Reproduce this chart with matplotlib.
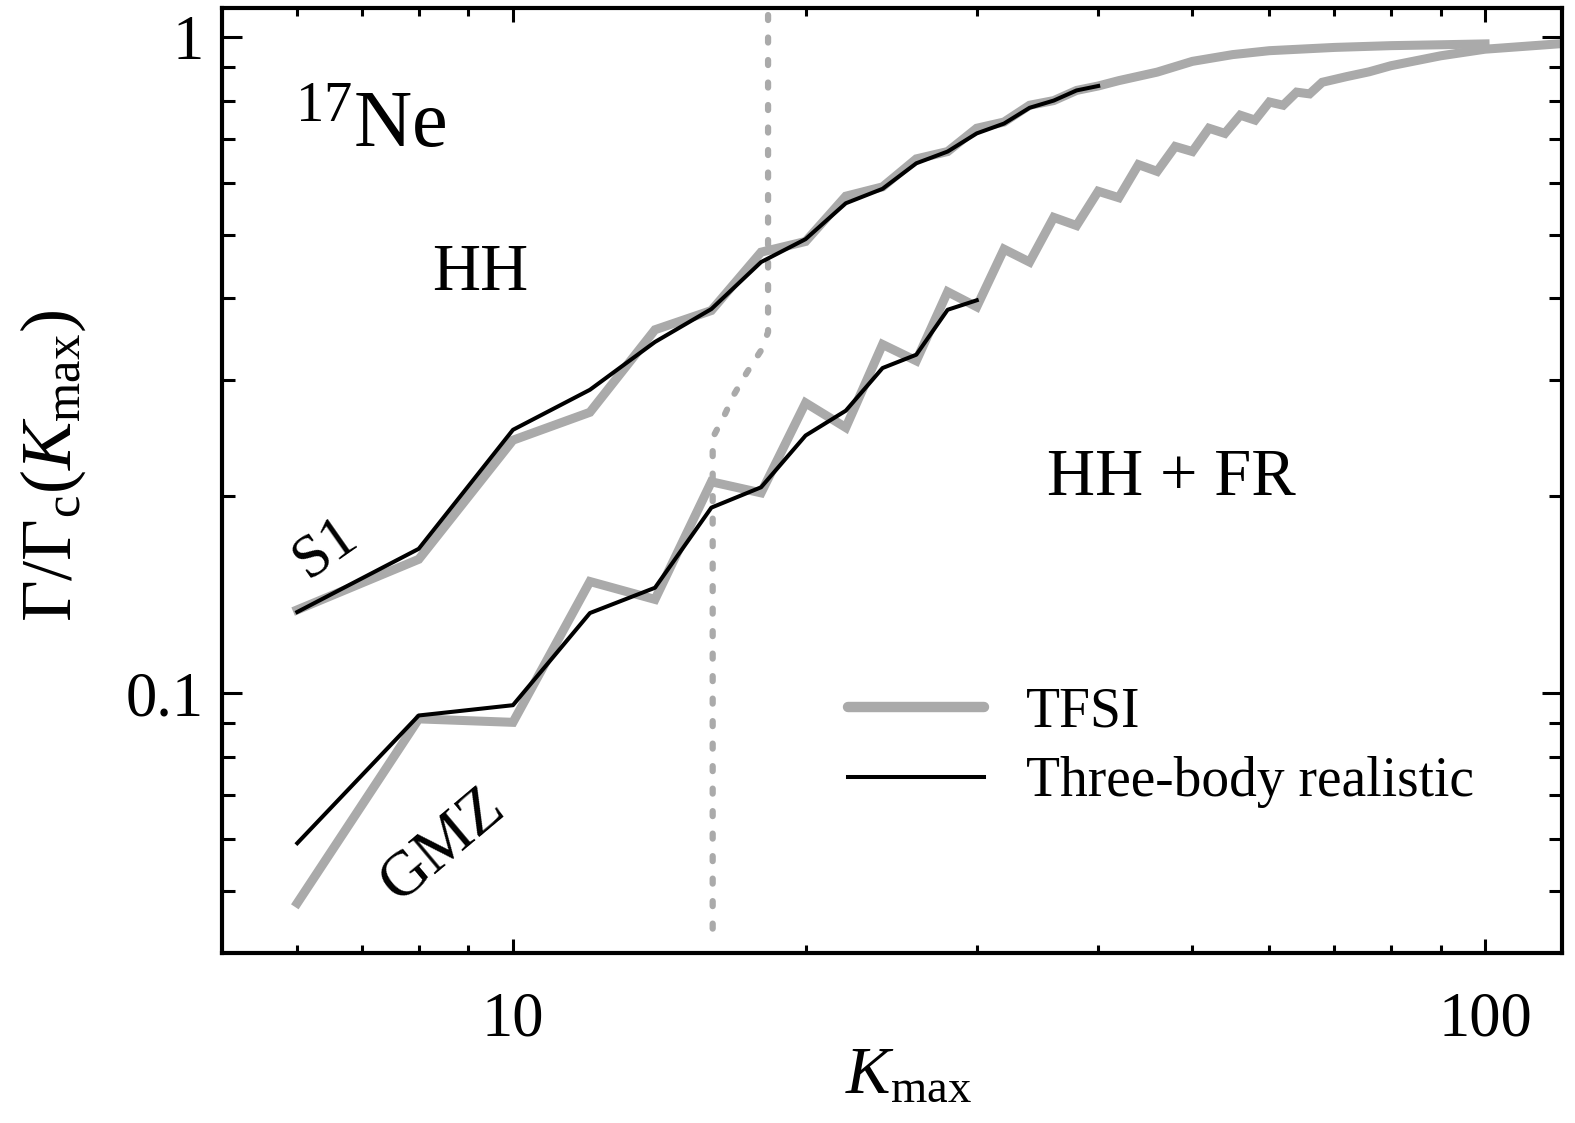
import numpy as np
import matplotlib
matplotlib.use('Agg')
import matplotlib.pyplot as plt
from matplotlib.ticker import FixedLocator, FixedFormatter, LogLocator, NullFormatter

# fuentes tipo Times
plt.rcParams['font.family'] = ['Liberation Serif', 'DejaVu Serif']
plt.rcParams['mathtext.fontset'] = 'custom'
plt.rcParams['mathtext.rm'] = 'Liberation Serif'
plt.rcParams['mathtext.it'] = 'Liberation Serif:italic'

# S1, TFSI
k_s1_tfsi = [6, 8, 10, 12, 14, 16, 18, 20, 22, 24, 26, 28, 30, 32, 34, 36, 38, 40,
             42, 46, 50, 55, 60, 70, 80, 90, 100]
g_s1_tfsi = [0.134, 0.160, 0.243, 0.268, 0.358, 0.383, 0.470, 0.488, 0.572, 0.591,
             0.652, 0.669, 0.726, 0.742, 0.787, 0.800, 0.829, 0.842,
             0.858, 0.884, 0.918, 0.940, 0.953, 0.964, 0.970, 0.973, 0.976]

# S1, three-body realistic
k_s1_3b = [6, 8, 10, 12, 14, 16, 18, 20, 22, 24, 26, 28, 30, 32, 34, 36, 38, 40]
g_s1_3b = [0.133, 0.166, 0.252, 0.290, 0.343, 0.385, 0.454, 0.492, 0.558, 0.587,
           0.642, 0.669, 0.713, 0.738, 0.780, 0.800, 0.829, 0.842]

# GMZ, TFSI
k_gmz_tfsi = [6, 8, 10, 12, 14, 16, 18, 20, 22, 24, 26, 28, 30, 32, 34, 36, 38, 40,
              42, 44, 46, 48, 50, 52, 54, 56, 58, 60, 62, 64, 66, 68, 72, 76, 80,
              90, 100, 120]
g_gmz_tfsi = [0.0479, 0.0914, 0.0903, 0.148, 0.139, 0.210, 0.202, 0.277, 0.254, 0.340,
              0.321, 0.409, 0.388, 0.475, 0.454, 0.531, 0.516, 0.582,
              0.569, 0.639, 0.624, 0.681, 0.669, 0.726, 0.713, 0.760, 0.747, 0.796,
              0.787, 0.824, 0.819, 0.853, 0.870, 0.885, 0.904,
              0.936, 0.958, 0.977]

# GMZ, three-body realistic
k_gmz_3b = [6, 8, 10, 12, 14, 16, 18, 20, 22, 24, 26, 28, 30]
g_gmz_3b = [0.0591, 0.0925, 0.0959, 0.1325, 0.1448, 0.1918, 0.206, 0.247, 0.2695,
            0.313, 0.328, 0.384, 0.397]

# frontera HH / HH + FR (punteada)
k_bound = [18.3, 18.3, 18.0, 17.4, 16.9, 16.5, 16.05, 16.05]
g_bound = [1.08, 0.355, 0.333, 0.308, 0.286, 0.265, 0.245, 0.0432]

gris = '#aaaaaa'

fig = plt.figure(figsize=(15.75, 11.23), dpi=100)
ax = fig.add_axes([222/1575, 1 - 953/1123, 1340/1575, 945/1123])

ax.plot(k_bound, g_bound, color=gris, lw=4.5, linestyle=(0, (0.8, 2.8)),
        dash_capstyle='round')
ax.plot(k_s1_tfsi, g_s1_tfsi, color=gris, lw=6.5, solid_joinstyle='miter',
        label='TFSI')
ax.plot(k_gmz_tfsi, g_gmz_tfsi, color=gris, lw=6.5, solid_joinstyle='miter')
ax.plot(k_s1_3b, g_s1_3b, color='black', lw=2.9, label='Three-body realistic')
ax.plot(k_gmz_3b, g_gmz_3b, color='black', lw=2.9)

ax.set_xscale('log')
ax.set_yscale('log')
ax.set_xlim(5.02, 120)
ax.set_ylim(0.0402, 1.107)

ax.xaxis.set_major_locator(FixedLocator([10, 100]))
ax.xaxis.set_major_formatter(FixedFormatter(['10', '100']))
ax.xaxis.set_minor_locator(LogLocator(base=10, subs=np.arange(2, 10)))
ax.xaxis.set_minor_formatter(NullFormatter())
ax.yaxis.set_major_locator(FixedLocator([0.1, 1]))
ax.yaxis.set_major_formatter(FixedFormatter(['0.1', '1']))
ax.yaxis.set_minor_locator(LogLocator(base=10, subs=np.arange(2, 10)))
ax.yaxis.set_minor_formatter(NullFormatter())

ax.tick_params(which='both', direction='in', top=True, right=True, width=2.2,
               labelsize=45)
ax.tick_params(axis='x', which='major', length=10, pad=28)
ax.tick_params(axis='x', which='minor', length=6)
ax.tick_params(axis='y', which='major', length=14.5, pad=13)
ax.tick_params(axis='y', which='minor', length=9.5)
for s in ax.spines.values():
    s.set_linewidth(3)

ax.set_xlabel(r'$K_{\mathrm{max}}$', fontsize=48)
ax.set_ylabel(r'$\Gamma/\Gamma_{\mathrm{c}}(K_{\mathrm{max}})$', fontsize=52)
ax.xaxis.set_label_coords(0.512, -0.098)
ax.yaxis.set_label_coords(-0.10, 0.515)

ax.text(0.0545, 0.853, r'$^{\mathrm{17}}\mathrm{Ne}$', transform=ax.transAxes,
        fontsize=58, ha='left', va='baseline')
ax.text(0.157, 0.702, 'HH', transform=ax.transAxes, fontsize=48,
        ha='left', va='baseline')
ax.text(0.616, 0.485, 'HH + FR', transform=ax.transAxes, fontsize=48,
        ha='left', va='baseline')
ax.text(0.0775, 0.4286, 'S1', transform=ax.transAxes, fontsize=44,
        rotation=35, ha='center', va='center')
ax.text(0.165, 0.114, 'GMZ', transform=ax.transAxes, fontsize=46,
        rotation=40, ha='center', va='center')

leg = ax.legend(loc='center left', bbox_to_anchor=(0.43, 0.2175), frameon=False,
                fontsize=40, handlelength=2.45, handletextpad=0.75,
                labelspacing=0.32)
leg.get_lines()[0].set_solid_capstyle('round')
leg.get_lines()[0].set_linewidth(7.5)

fig.savefig('out.png', dpi=100)
